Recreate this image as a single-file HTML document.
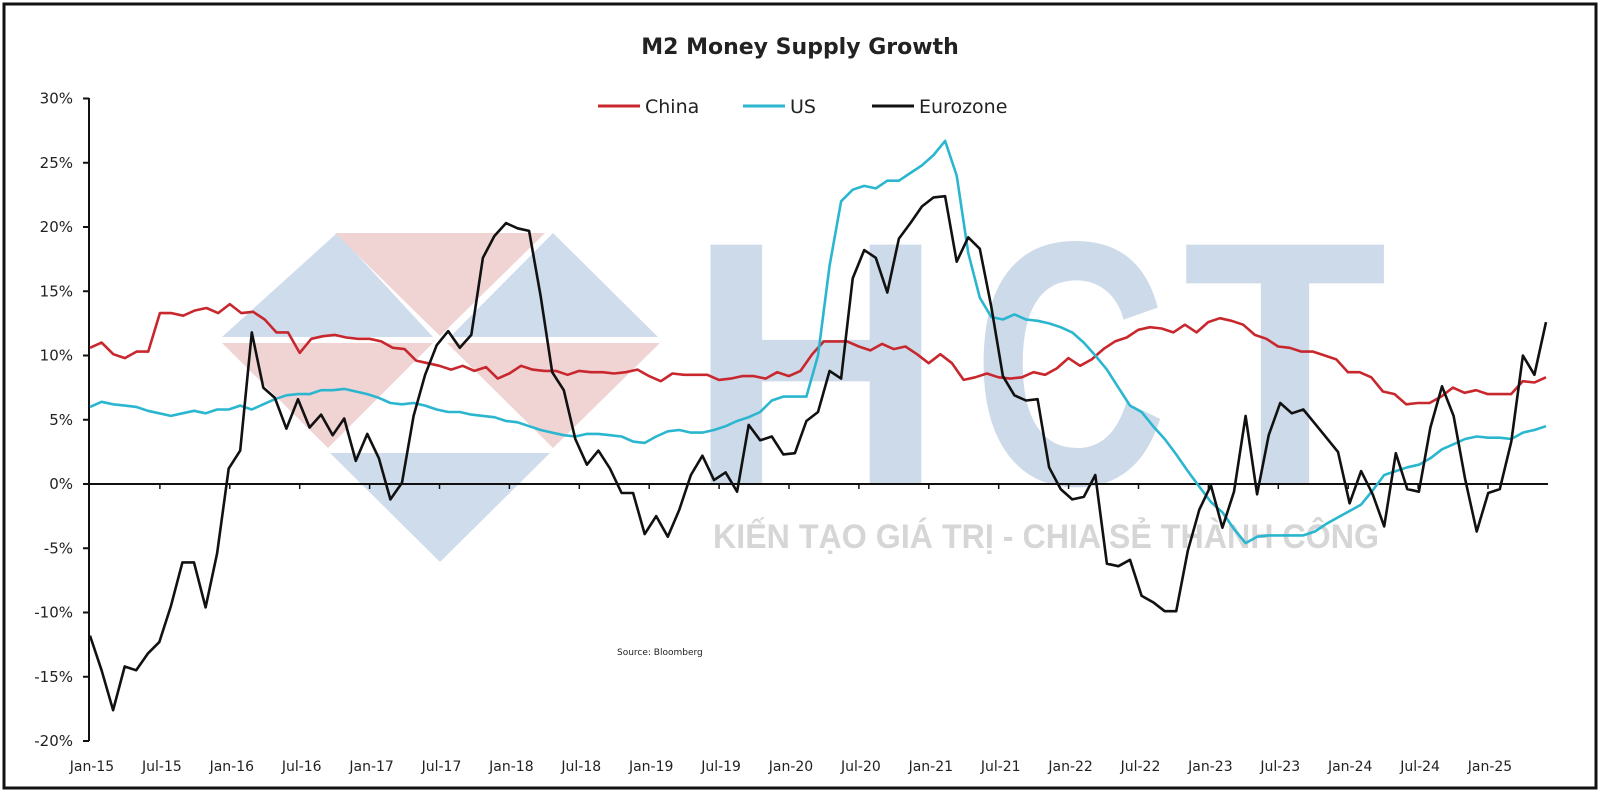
<!DOCTYPE html>
<html><head><meta charset="utf-8"><style>
html,body{margin:0;padding:0;background:#fff}
svg{display:block}
text{font-family:"DejaVu Sans","Liberation Sans",sans-serif}
</style></head><body>
<svg id="s" width="1600" height="792" viewBox="0 0 1600 792" xmlns="http://www.w3.org/2000/svg">
<rect x="4" y="4" width="1592" height="784" fill="#fff" stroke="#111" stroke-width="3"/>
<!-- watermark logo -->
<g>
<polygon points="337,233 222,337 433,337" fill="#cfdcec"/>
<polygon points="335,233 545,233 440,336" fill="#f0d4d4"/>
<polygon points="553,233 450,337 658,337" fill="#cfdcec"/>
<polygon points="222,343 433,343 328,448" fill="#f0d4d4"/>
<polygon points="447,343 660,343 553,448" fill="#f0d4d4"/>
<polygon points="330,453 550,453 440,562" fill="#cfdcec"/>
</g>
<g fill="#cddaea" font-weight="bold" font-size="348" style="font-family:'Liberation Sans',sans-serif">
<text x="816" y="484" text-anchor="middle" textLength="259" lengthAdjust="spacingAndGlyphs" style="font-family:'Liberation Sans',sans-serif">H</text>
<text x="1070" y="484" text-anchor="middle" textLength="195" lengthAdjust="spacingAndGlyphs" style="font-family:'Liberation Sans',sans-serif">C</text>
<text x="1285" y="484" text-anchor="middle" textLength="205" lengthAdjust="spacingAndGlyphs" style="font-family:'Liberation Sans',sans-serif">T</text>
</g>
<text x="713" y="548" font-size="34" font-weight="bold" fill="#d6d6d6" textLength="666" lengthAdjust="spacingAndGlyphs" style="font-family:'Liberation Sans',sans-serif">KIẾN TẠO GIÁ TRỊ - CHIA SẺ THÀNH CÔNG</text>
<!-- title -->
<text x="800" y="54" text-anchor="middle" font-size="22" font-weight="bold" fill="#222">M2 Money Supply Growth</text>
<!-- legend -->
<line x1="598" y1="106" x2="640" y2="106" stroke="#c8282d" stroke-width="3"/>
<text x="645" y="113" font-size="19" fill="#222">China</text>
<line x1="743" y1="106" x2="785" y2="106" stroke="#2bb6d0" stroke-width="3"/>
<text x="790" y="113" font-size="19" fill="#222">US</text>
<line x1="872" y1="106" x2="914" y2="106" stroke="#111" stroke-width="3"/>
<text x="919" y="113" font-size="19" fill="#222">Eurozone</text>
<text x="617" y="655" font-size="9" fill="#222">Source:  Bloomberg</text>
<g id="axes"></g>
<g id="lines"></g>
</svg>
<script>
const Y=p=>484-12.85*p;
const ax=document.getElementById('axes'),ln=document.getElementById('lines');
let h='<line x1="89" y1="98" x2="89" y2="741" stroke="#111" stroke-width="2"/>';
for(let p=30;p>=-20;p-=5){const y=Y(p);h+=`<line x1="83" y1="${y}" x2="89" y2="${y}" stroke="#111" stroke-width="2"/><text x="73" y="${y+5}" text-anchor="end" font-size="15" fill="#222">${p}%</text>`;}
h+=`<line x1="89" y1="484" x2="1548" y2="484" stroke="#111" stroke-width="2"/>`;
const labs=['Jan','Jul'];
for(let i=0;i<=20;i++){const m=i*6;const x=92+11.65*m;const yr=15+Math.floor(i/2);h+=`<text x="${x}" y="771" text-anchor="middle" font-size="14" fill="#222">${labs[i%2]}-${yr}</text>`;
 if(i>0)h+=`<line x1="${x-2}" y1="484" x2="${x-2}" y2="489" stroke="#111" stroke-width="1.5"/>`;}
ax.innerHTML=h;
const cn=[10.6,11.0,10.1,9.8,10.3,10.3,13.3,13.3,13.1,13.5,13.7,13.3,14.0,13.3,13.4,12.8,11.8,11.8,10.2,11.3,11.5,11.6,11.4,11.3,11.3,11.1,10.6,10.5,9.6,9.4,9.2,8.9,9.2,8.8,9.1,8.2,8.6,9.2,8.9,8.8,8.8,8.5,8.8,8.7,8.7,8.6,8.7,8.9,8.4,8.0,8.6,8.5,8.5,8.5,8.1,8.2,8.4,8.4,8.2,8.7,8.4,8.8,10.1,11.1,11.1,11.1,10.7,10.4,10.9,10.5,10.7,10.1,9.4,10.1,9.4,8.1,8.3,8.6,8.3,8.2,8.3,8.7,8.5,9.0,9.8,9.2,9.7,10.5,11.1,11.4,12.0,12.2,12.1,11.8,12.4,11.8,12.6,12.9,12.7,12.4,11.6,11.3,10.7,10.6,10.3,10.3,10.0,9.7,8.7,8.7,8.3,7.2,7.0,6.2,6.3,6.3,6.8,7.5,7.1,7.3,7.0,7.0,7.0,8.0,7.9,8.3];
const us=[6.0,6.4,6.2,6.1,6.0,5.7,5.5,5.3,5.5,5.7,5.5,5.8,5.8,6.1,5.8,6.2,6.6,6.9,7.0,7.0,7.3,7.3,7.4,7.2,7.0,6.7,6.3,6.2,6.3,6.1,5.8,5.6,5.6,5.4,5.3,5.2,4.9,4.8,4.5,4.2,4.0,3.8,3.7,3.9,3.9,3.8,3.7,3.3,3.2,3.7,4.1,4.2,4.0,4.0,4.2,4.5,4.9,5.2,5.6,6.5,6.8,6.8,6.8,10,17,22,22.9,23.2,23.0,23.6,23.6,24.2,24.8,25.6,26.7,24,18,14.5,13,12.8,13.2,12.8,12.7,12.5,12.2,11.8,11.0,10.0,8.9,7.5,6.1,5.6,4.5,3.5,2.3,1.0,-0.2,-1.4,-2.2,-3.5,-4.6,-4.1,-4.0,-4.0,-4.0,-4.0,-3.7,-3.1,-2.6,-2.1,-1.6,-0.5,0.7,1.0,1.3,1.5,2.0,2.7,3.1,3.5,3.7,3.6,3.6,3.5,4.0,4.2,4.5];
const eu=[-11.8,-14.5,-17.6,-14.2,-14.5,-13.2,-12.3,-9.5,-6.1,-6.1,-9.6,-5.4,1.2,2.6,11.8,7.5,6.7,4.3,6.6,4.4,5.4,3.8,5.1,1.8,3.9,2.0,-1.2,0.1,5.3,8.5,10.8,11.9,10.6,11.6,17.6,19.3,20.3,19.9,19.7,14.6,8.7,7.3,3.5,1.5,2.6,1.2,-0.7,-0.7,-3.9,-2.5,-4.1,-2.0,0.7,2.2,0.3,0.9,-0.6,4.6,3.4,3.7,2.3,2.4,4.9,5.6,8.8,8.2,16.0,18.2,17.6,14.9,19.1,20.3,21.6,22.3,22.4,17.3,19.2,18.3,13.8,8.4,6.9,6.5,6.6,1.3,-0.4,-1.2,-1.0,0.7,-6.2,-6.4,-5.9,-8.7,-9.2,-9.9,-9.9,-5.2,-2.0,-0.1,-3.4,-0.6,5.3,-0.8,3.8,6.3,5.5,5.8,4.7,3.6,2.5,-1.5,1.0,-0.8,-3.3,2.4,-0.4,-0.6,4.4,7.6,5.3,0.4,-3.7,-0.7,-0.4,3.3,10.0,8.5,12.6];
function path(a,c){const n=a.length;return `<polyline fill="none" stroke="${c}" stroke-width="2.6" stroke-linejoin="round" points="${a.map((v,i)=>(90+(1546-90)*i/(n-1)).toFixed(1)+','+Y(v).toFixed(1)).join(' ')}"/>`;}
ln.innerHTML=path(cn,'#c8282d')+path(us,'#2bb6d0')+path(eu,'#111');
</script>
</body></html>
